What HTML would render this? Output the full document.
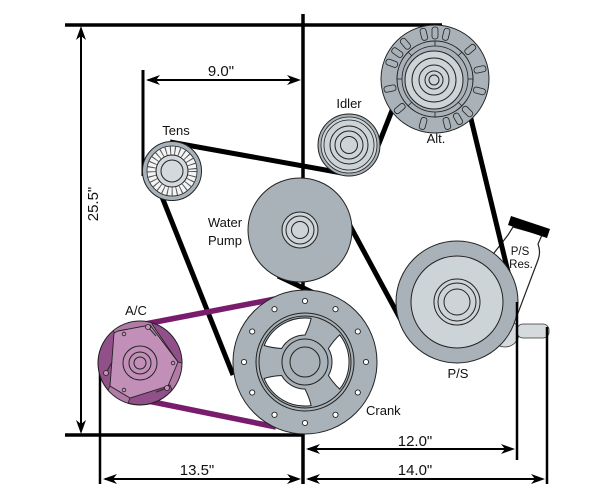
<!DOCTYPE html>
<html><head><meta charset="utf-8"><style>
html,body{margin:0;padding:0;background:#fff;}
svg{display:block;}
text{font-family:"Liberation Sans",sans-serif;fill:#111;}
</style></head><body>
<svg width="608" height="497" viewBox="0 0 608 497" xmlns="http://www.w3.org/2000/svg">
<defs>
  <rect id="slot" x="-3" y="-52" width="6" height="12" rx="2.5" fill="#a8b2b8" stroke="#222" stroke-width="0.8"/>
  <path id="win" d="M339.7,334.9 A44,44 0 0 1 339.7,389.1 Q334,384 328.4,375.5 A27,27 0 0 0 328.4,348.5 Q334,340 339.7,334.9 Z" fill="#fff" stroke="#222" stroke-width="1"/>
</defs>

<!-- P/S reservoir (behind belt) -->
<circle cx="505" cy="333" r="14" fill="#d5dadd" stroke="#333" stroke-width="0.8"/>
<path d="M513,227 L508,235 L494,253 L490,300 L505,330 L518,313 L538,260 Q541,252 538,244 L542,235 Z" fill="#fff" stroke="#222" stroke-width="1.2"/>
<polygon points="511,216 550,229 547,238 508,225" fill="#000"/>
<rect x="517" y="324" width="32" height="14" rx="6" fill="#d5dadd" stroke="#333" stroke-width="0.8"/>

<!-- frame lines -->
<g stroke="#000" fill="none">
  <path d="M65,25 H442" stroke-width="3.5"/>
  <path d="M303,14 V484" stroke-width="3.5"/>
  <path d="M65,435 H303" stroke-width="3.5"/>
  <path d="M81,32 V428" stroke-width="2"/>
  <path d="M143,70 V176" stroke-width="3"/>
  <path d="M148,80 H298" stroke-width="2"/>
  <path d="M100,370 V484" stroke-width="2.5"/>
  <path d="M105,479 H298" stroke-width="2"/>
  <path d="M308,449 H512" stroke-width="2"/>
  <path d="M308,479 H542" stroke-width="2"/>
</g>
<g fill="#000">
  <path d="M81,26 l-5,14 l5,-4 l5,4 z"/>
  <path d="M81,434 l-5,-14 l5,4 l5,-4 z"/>
  <path d="M146,80 l14,-5 l-4,5 l4,5 z"/>
  <path d="M301,80 l-14,-5 l4,5 l-4,5 z"/>
  <path d="M103,479 l14,-5 l-4,5 l4,5 z"/>
  <path d="M301,479 l-14,-5 l4,5 l-4,5 z"/>
  <path d="M306,449 l14,-5 l-4,5 l4,5 z"/>
  <path d="M515,449 l-14,-5 l4,5 l-4,5 z"/>
  <path d="M306,479 l14,-5 l-4,5 l4,5 z"/>
  <path d="M545,479 l-14,-5 l4,5 l-4,5 z"/>
</g>

<!-- belts -->
<g stroke="#000" stroke-width="5" fill="none">
  <path d="M170,142 L342,173"/>
  <path d="M404,80 L378,146"/>
  <path d="M463,86 L510,280"/>
  <path d="M160,192 L233,375"/>
  <path d="M348,222 L402,322"/>
  <path d="M278,276 L316,294"/>
</g>
<g stroke="#7a1c6c" stroke-width="5.5" fill="none">
  <path d="M145,324 L275,299"/>
  <path d="M148,401 L276,427"/>
</g>

<!-- Tensioner -->
<circle cx="172" cy="171" r="29.5" fill="#a8b2b8" stroke="#222" stroke-width="1"/>
<circle cx="172" cy="171" r="25" fill="#f2f4f5" stroke="#222" stroke-width="0.8"/>
<circle cx="172" cy="171" r="20.5" fill="none" stroke="#555" stroke-width="8" stroke-dasharray="1 3.5"/>
<circle cx="172" cy="171" r="16" fill="#d3d9dc" stroke="#222" stroke-width="1"/>
<circle cx="172" cy="171" r="11" fill="none" stroke="#222" stroke-width="1"/>

<!-- Idler -->
<circle cx="349" cy="145" r="31" fill="#a8b2b8" stroke="#222" stroke-width="1"/>
<circle cx="349" cy="145" r="28" fill="#cdd4d8" stroke="#222" stroke-width="0.8"/>
<circle cx="349" cy="145" r="25" fill="none" stroke="#222" stroke-width="0.8"/>
<circle cx="349" cy="145" r="19" fill="none" stroke="#222" stroke-width="1"/>
<circle cx="349" cy="145" r="14" fill="none" stroke="#222" stroke-width="1"/>
<circle cx="349" cy="145" r="8.5" fill="none" stroke="#222" stroke-width="1"/>

<!-- Alternator -->
<circle cx="435" cy="79" r="54" fill="#a8b2b8" stroke="#222" stroke-width="1"/>
<g transform="translate(435,79)">
  <use href="#slot" transform="rotate(0)"/>
  <use href="#slot" transform="rotate(14)"/>
  <use href="#slot" transform="rotate(-14)"/>
  <use href="#slot" transform="rotate(50)"/>
  <use href="#slot" transform="rotate(78)"/>
  <use href="#slot" transform="rotate(105)"/>
  <use href="#slot" transform="rotate(135)"/>
  <use href="#slot" transform="rotate(150)"/>
  <use href="#slot" transform="rotate(165)"/>
  <use href="#slot" transform="rotate(195)"/>
  <use href="#slot" transform="rotate(230)"/>
  <use href="#slot" transform="rotate(258)"/>
  <use href="#slot" transform="rotate(290)"/>
  <use href="#slot" transform="rotate(305)"/>
  <use href="#slot" transform="rotate(320)"/>
</g>
<circle cx="435" cy="79" r="38" fill="#a8b2b8" stroke="#222" stroke-width="1"/>
<circle cx="435" cy="79" r="33" fill="none" stroke="#222" stroke-width="0.8"/>
<g stroke="#222" stroke-width="0.8">
  <path d="M435,41 V46"/><path d="M435,112 V117"/><path d="M397,79 H402"/><path d="M468,79 H473"/>
  <path d="M408,52 L412,56"/><path d="M458,102 L462,106"/><path d="M462,52 L458,56"/><path d="M408,106 L412,102"/>
</g>
<circle cx="434" cy="80" r="29" fill="#cdd4d8" stroke="#222" stroke-width="1"/>
<circle cx="434" cy="80" r="22" fill="none" stroke="#222" stroke-width="1"/>
<circle cx="434" cy="80" r="15" fill="none" stroke="#222" stroke-width="1"/>
<circle cx="434" cy="80" r="9" fill="none" stroke="#222" stroke-width="1"/>
<circle cx="434" cy="80" r="5" fill="none" stroke="#222" stroke-width="1"/>

<!-- Water pump -->
<circle cx="300" cy="230" r="52" fill="#a8b2b8" stroke="#222" stroke-width="1"/>
<circle cx="300" cy="230" r="18" fill="#cdd4d8" stroke="#222" stroke-width="1"/>
<circle cx="300" cy="230" r="14" fill="none" stroke="#222" stroke-width="1"/>
<circle cx="300" cy="230" r="8.5" fill="none" stroke="#222" stroke-width="1"/>

<!-- P/S pulley -->
<circle cx="457" cy="302" r="61" fill="#a8b2b8" stroke="#222" stroke-width="1"/>
<circle cx="457" cy="302" r="46" fill="#cdd4d8" stroke="#222" stroke-width="1"/>
<circle cx="457" cy="302" r="23" fill="none" stroke="#222" stroke-width="1"/>
<circle cx="457" cy="302" r="19" fill="none" stroke="#222" stroke-width="1"/>
<circle cx="457" cy="302" r="13" fill="none" stroke="#222" stroke-width="1"/>

<!-- Crank -->
<circle cx="305" cy="362" r="72" fill="#a8b2b8" stroke="#222" stroke-width="1"/>
<g fill="#fff" stroke="#222" stroke-width="0.9">
  <circle cx="305" cy="301" r="2.6"/>
  <circle cx="335.5" cy="309.2" r="2.6"/>
  <circle cx="357.8" cy="331.5" r="2.6"/>
  <circle cx="366" cy="362" r="2.6"/>
  <circle cx="357.8" cy="392.5" r="2.6"/>
  <circle cx="335.5" cy="414.8" r="2.6"/>
  <circle cx="305" cy="423" r="2.6"/>
  <circle cx="274.5" cy="414.8" r="2.6"/>
  <circle cx="252.2" cy="392.5" r="2.6"/>
  <circle cx="244" cy="362" r="2.6"/>
  <circle cx="252.2" cy="331.5" r="2.6"/>
  <circle cx="274.5" cy="309.2" r="2.6"/>
</g>
<circle cx="305" cy="362" r="49" fill="none" stroke="#222" stroke-width="1"/>
<circle cx="305" cy="362" r="46" fill="#a8b2b8" stroke="#222" stroke-width="1"/>
<use href="#win"/>
<use href="#win" transform="rotate(120 305 362)"/>
<use href="#win" transform="rotate(240 305 362)"/>
<circle cx="305" cy="362" r="23" fill="none" stroke="#222" stroke-width="1"/>
<circle cx="305" cy="362" r="15" fill="none" stroke="#222" stroke-width="1"/>

<!-- A/C -->
<circle cx="140" cy="363" r="42" fill="#b27aa7" stroke="#222" stroke-width="1"/>
<g fill="#92508a" stroke="#222" stroke-width="0.8">
  <path d="M152,324 L178,362 L182,363 A42,42 0 0 0 152,323 Z"/>
  <path d="M115,333 L110,386 L108,390 A42,42 0 0 1 113,331 Z"/>
  <path d="M130,398 L170,385 L172,390 A42,42 0 0 1 128,403 Z"/>
</g>
<polygon points="118,331 150,325 178,362 168,386 130,398 110,386 114,333" fill="#c28fb8" stroke="#222" stroke-width="0.9"/>
<g stroke="#333" stroke-width="1.2" fill="none">
  <path d="M148,327 L156,336"/>
  <path d="M106,373 L112,362"/>
  <path d="M167,388 L156,392"/>
</g>
<g fill="#c792bc" stroke="#222" stroke-width="0.8">
  <circle cx="148" cy="327" r="2.5"/>
  <circle cx="106" cy="373" r="2.5"/>
  <circle cx="167" cy="388" r="2.5"/>
  <circle cx="124" cy="334" r="1.8"/>
  <circle cx="173" cy="363" r="1.8"/>
  <circle cx="124" cy="390" r="1.8"/>
</g>
<circle cx="140" cy="363" r="17" fill="none" stroke="#222" stroke-width="1"/>
<circle cx="140" cy="363" r="11" fill="none" stroke="#222" stroke-width="1"/>
<circle cx="140" cy="363" r="6" fill="none" stroke="#222" stroke-width="1"/>

<!-- top verticals -->
<path d="M517,302 V460" stroke="#000" stroke-width="2.5"/>
<path d="M547,327 V484" stroke="#000" stroke-width="2.5"/>

<!-- labels -->
<g font-size="13">
  <text x="176" y="135" text-anchor="middle">Tens</text>
  <text x="349" y="108" text-anchor="middle">Idler</text>
  <text x="225" y="227" text-anchor="middle">Water</text>
  <text x="225" y="245" text-anchor="middle">Pump</text>
  <text x="436" y="143" text-anchor="middle">Alt.</text>
  <text x="458" y="378" text-anchor="middle">P/S</text>
  <text x="366" y="415">Crank</text>
  <text x="136" y="315" text-anchor="middle">A/C</text>
</g>
<g font-size="11.5">
  <text x="520" y="255" text-anchor="middle">P/S</text>
  <text x="521" y="268" text-anchor="middle">Res.</text>
</g>
<g font-size="15">
  <text x="221" y="76" text-anchor="middle">9.0"</text>
  <text x="197" y="475" text-anchor="middle">13.5"</text>
  <text x="415" y="446" text-anchor="middle">12.0"</text>
  <text x="415" y="475" text-anchor="middle">14.0"</text>
  <text transform="translate(98,204) rotate(-90)" text-anchor="middle">25.5"</text>
</g>
</svg>
</body></html>
